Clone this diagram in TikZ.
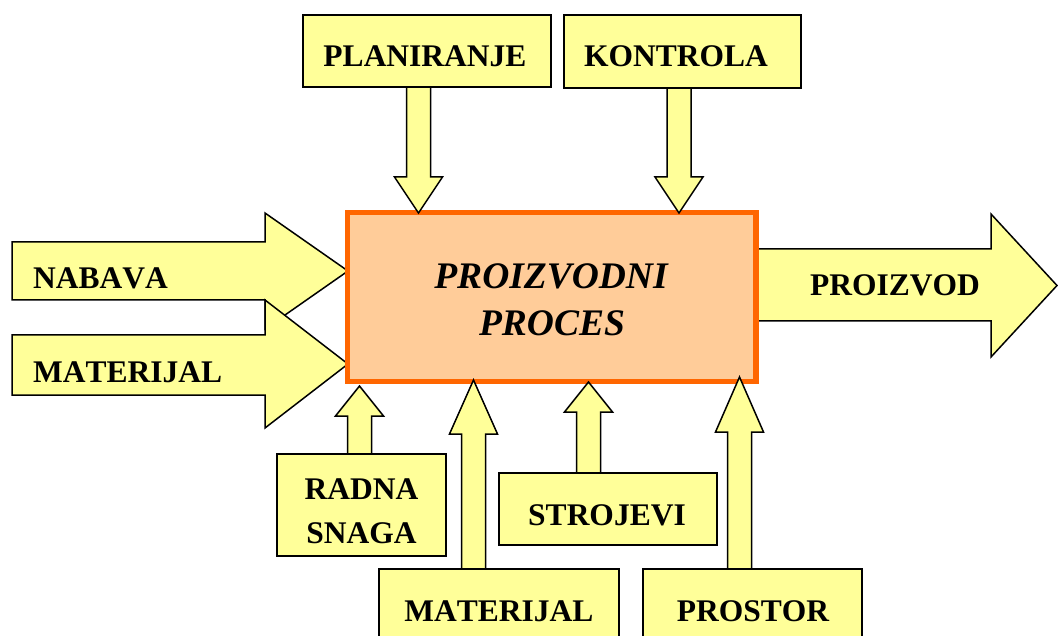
\documentclass[tikz,border=0pt]{standalone}
\usepackage{fontspec}
\setmainfont{Liberation Serif}
\newfontfamily\nokern[Kerning=Off]{Liberation Serif}
\definecolor{ylw}{HTML}{FFFF99}
\definecolor{peach}{HTML}{FFCC99}
\definecolor{orng}{HTML}{FF6600}
\newcommand{\vblock}[4]{%
  \draw[barrow] ({#1-12},#2) -- ({#1-12},#3) -- ({#1-24},#3) -- (#1,#4) -- ({#1+24},#3) -- ({#1+12},#3) -- ({#1+12},#2);}
\begin{document}
\begin{tikzpicture}[x=1pt,y=-1pt,
  barrow/.style={draw=black, line width=1.5pt, fill=ylw, line join=miter},
  boxn/.style={draw=black, line width=1.5pt, fill=ylw, rectangle, inner sep=0pt},
  lbl/.style={font=\nokern\fontsize{31.5}{44}\selectfont\bfseries, inner sep=0pt, anchor=base},
  lblw/.style={font=\nokern\fontsize{31.5}{44}\selectfont\bfseries, inner sep=0pt, anchor=base west},
  big/.style={font=\fontsize{37.5}{47}\selectfont\bfseries\itshape, inner sep=0pt, anchor=base}]
\useasboundingbox (0,0) rectangle (1058,636);
\clip (0,0) rectangle (1058,636);
% left input arrows
\draw[barrow] (12,242) -- (265,242) -- (265,213) -- (348,271) -- (265,329) -- (265,300) -- (12,300) -- cycle;
\node[lblw] (nabava) at (33,289) {NABAVA};
\draw[barrow] (12,335) -- (265,335) -- (265,300) -- (348,364) -- (265,428) -- (265,395) -- (12,395) -- cycle;
\node[lblw] (matl) at (33,382) {MATERIJAL};
% output arrow
\draw[barrow] (756,249) -- (991,249) -- (991,214) -- (1057,285.5) -- (991,357) -- (991,321) -- (756,321) -- cycle;
\node[lblw] (proizvod) at (810,296) {PROIZVOD};
% main process box
\node[draw=orng, line width=5.5pt, fill=peach, rectangle, minimum width=408.5pt, minimum height=169pt, inner sep=0pt] (proc) at (551.75,297) {};
\node[big] (procA) at (551,289) {PROIZVODNI};
\node[big] (procB) at (552,336) {PROCES};
% vertical arrows
\vblock{418.5}{87}{177}{213}
\vblock{679}{88}{177}{213}
\vblock{359.5}{454}{416}{386}
\vblock{473.5}{569}{434}{380}
\vblock{588.5}{473}{412}{382}
\vblock{739.5}{569}{432}{377}
% top boxes
\node[boxn, minimum width=248pt, minimum height=72pt] (plan) at (427,51) {};
\node[lbl] (planT) at (425,67) {PLANIRANJE};
\node[boxn, minimum width=237pt, minimum height=73pt] (kont) at (682.5,51.5) {};
\node[lbl] (kontT) at (676,67) {KONTROLA};
% bottom boxes
\node[boxn, minimum width=169pt, minimum height=102pt] (radna) at (361.5,505) {};
\node[lbl] (radnaA) at (361.5,499) {RADNA};
\node[lbl] (radnaB) at (361.5,543) {SNAGA};
\node[boxn, minimum width=218pt, minimum height=72pt] (stroj) at (608,509) {};
\node[lbl] (strojT) at (607,525) {STROJEVI};
\node[boxn, minimum width=240pt, minimum height=90pt] (matb) at (499,614) {};
\node[lbl] (matbT) at (499,621) {MATERIJAL};
\node[boxn, minimum width=219pt, minimum height=90pt] (prost) at (752.5,614) {};
\node[lbl] (prostT) at (753,621) {PROSTOR};
\end{tikzpicture}
\end{document}
